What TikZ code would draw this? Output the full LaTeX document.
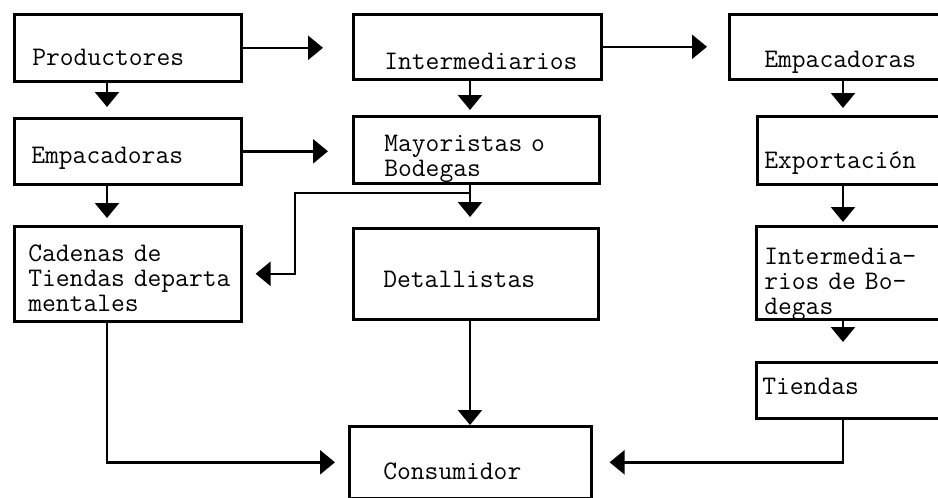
\documentclass[tikz,border=0pt]{standalone}
\usepackage{tikz}
\usetikzlibrary{arrows.meta}

\begin{document}
\begin{tikzpicture}[
  x=0.5pt, y=-0.5pt,
  caja/.style={
    draw, line width=1.3pt, anchor=north west, align=left,
    inner ysep=0pt,
    font=\ttfamily\fontsize{13.4}{12.5}\selectfont,
    execute at begin node={\hyphenpenalty=10000\relax}
  },
  flecha/.style={-{Triangle[length=7.5pt, width=12pt]}, line width=1.3pt}
]
  \useasboundingbox (0,0) rectangle (938,498);

  % Ejes de las flechas verticales
  \coordinate (ejeA) at (107,0);
  \coordinate (ejeB) at (470,0);
  \coordinate (ejeC) at (843,0);
  \coordinate (giro) at (295,193);

  % Columna izquierda
  \node[caja, inner xsep=9pt, text width=95.5pt, text height=25.5pt, text depth=8pt] (prod) at (13,13) {Productores};
  \node[caja, inner xsep=8.5pt, text width=96.5pt, text height=22.5pt, text depth=10.5pt] (emp1) at (13,117) {Empacadoras};
  \node[caja, inner xsep=7pt, text width=99.5pt, text height=17.5pt, text depth=30pt] (cad) at (13,225) {Cadenas~de\\Tiendas~departa\\mentales};

  % Columna central
  \node[caja, inner xsep=15.5pt, text width=93pt, text height=27.5pt, text depth=5pt] (inter) at (352,13) {Intermediarios};
  \node[caja, inner xsep=15.5pt, text width=92pt, text height=17.5pt, text depth=16pt] (mayor) at (352,115) {Mayoristas~o\\Bodegas};
  \node[caja, inner xsep=15pt, text width=92.5pt, text height=29.5pt, text depth=16pt] (det) at (352,227) {Detallistas};
  \node[caja, inner xsep=17pt, text width=87pt, text height=26.5pt, text depth=9.5pt] (cons) at (348,425) {Consumidor};

  % Columna derecha (cortada por el borde)
  \node[caja, inner xsep=17.5pt, text width=73.5pt, text height=26.5pt, text depth=6pt] (emp2) at (728,13) {Empacadoras};
  \node[caja, inner xsep=3.5pt, text width=87.5pt, text height=26pt, text depth=8pt] (exp) at (756,115) {Exportación};
  \node[caja, inner xsep=4pt, text width=87pt, text height=19pt, text depth=27.5pt] (intb) at (755,225) {Intermedia-\\rios~de~Bo-\\degas};
  \node[caja, inner xsep=3pt, text width=89pt, text height=16pt, text depth=12pt] (tien) at (755,361) {Tiendas};

  % Flechas horizontales
  \draw[flecha, shorten >=14.5pt] (prod.east) -- (prod.east -| inter.west);
  \draw[flecha, shorten >=10.5pt] (inter.east) -- (inter.east -| emp2.west);
  \draw[flecha, shorten >=12pt] (emp1.east) -- (emp1.east -| mayor.west);

  % Flechas verticales
  \draw[flecha, shorten >=5pt] (ejeA |- prod.south) -- (ejeA |- emp1.north);
  \draw[flecha, shorten >=3.5pt] (ejeA |- emp1.south) -- (ejeA |- cad.north);
  \draw[flecha, shorten >=2.5pt] (ejeB |- inter.south) -- (ejeB |- mayor.north);
  \draw[flecha, shorten >=5pt] (ejeB |- mayor.south) -- (ejeB |- det.north);
  \draw[flecha] (ejeB |- det.south) -- (ejeB |- cons.north);
  \draw[flecha, shorten >=3.5pt] (ejeC |- emp2.south) -- (ejeC |- exp.north);
  \draw[flecha, shorten >=1.5pt] (ejeC |- exp.south) -- (ejeC |- intb.north);
  \draw[flecha, shorten >=9.5pt] (ejeC |- intb.south) -- (ejeC |- tien.north);

  % Desvio de mayoristas a cadenas
  \draw[flecha, shorten >=6.5pt] (ejeB |- giro) -- (giro) |- (cad.east);

  % Llegadas al consumidor
  \draw[flecha, shorten >=6.5pt] (ejeA |- cad.south) |- (cons.west);
  \draw[flecha, shorten >=8.5pt] (ejeC |- tien.south) |- (cons.east);

\end{tikzpicture}
\end{document}
